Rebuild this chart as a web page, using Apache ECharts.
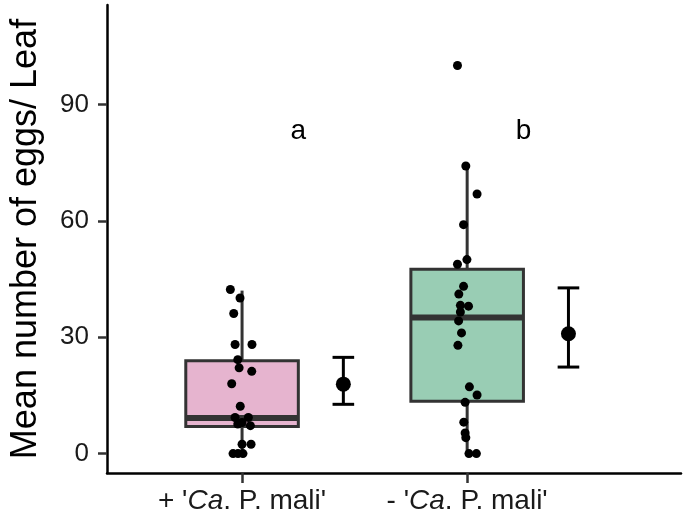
<!DOCTYPE html>
<html>
<head>
<meta charset="utf-8">
<script src="https://cdn.jsdelivr.net/npm/echarts@6/dist/echarts.min.js"></script>
<style>html,body{margin:0;padding:0;background:#fff}#c{width:685px;height:523px}</style>
</head>
<body>
<div id="c"></div>
<script>
// ---- data ----
const categories = ["+ 'Ca. P. mali'", "- 'Ca. P. mali'"];
const categoryPos = [1, 2];
const yTicks = [0, 30, 60, 90];
// box statistics
const whiskerLow = [0, 0];
const q1 = [7.0, 13.5];
const median = [9.2, 35.1];
const q3 = [23.9, 47.5];
const whiskerHigh = [42, 74];
const boxColors = ['#E6B4CF', '#99CDB4'];
// mean and error bars
const meanVals = [17.9, 30.9];
const errLow = [12.7, 22.3];
const errHigh = [24.8, 42.7];
// significance letters
const letters = ['a', 'b'];
const letterY = [83.0, 83.0];
// jittered raw points: values and horizontal jitter offsets
const group1Vals = [42.3, 40.1, 36.1, 28.1, 28.1, 24.2, 22.1, 21.2, 18.0, 12.2, 9.3, 9.3, 7.6, 7.2, 8.0, 2.4, 2.4, 0, 0, 0];
const group1Jit  = [-0.052, -0.009, -0.037, -0.031, 0.044, -0.019, -0.013, 0.043, -0.046, -0.008, -0.031, 0.028, -0.019, 0.037, 0.0, 0.0, 0.04, -0.04, -0.018, 0.004];
const group2Vals = [100, 74.1, 66.9, 59.0, 50.0, 48.8, 43.1, 41.1, 38.2, 38.0, 36.5, 34.2, 31.1, 27.9, 17.2, 15.1, 13.2, 8.1, 5.3, 4.1, 0, 0];
const group2Jit  = [-0.043, -0.006, 0.044, -0.016, -0.001, -0.043, -0.016, -0.037, -0.03, 0.006, -0.03, -0.038, -0.025, -0.041, 0.01, 0.044, -0.009, -0.015, -0.009, -0.006, 0.008, 0.041];

// ---- build ----
const BOX_W = 0.25;     // half width in x units
const ERR_OFF = 0.45;   // error bar nudge
const CAP = 0.048;
const FONT = "'Liberation Sans', Arial, sans-serif";

const boxData = categoryPos.map((x, i) => [x, whiskerLow[i], q1[i], median[i], q3[i], whiskerHigh[i], i]);
const errData = categoryPos.map((x, i) => [x + ERR_OFF, errLow[i], meanVals[i], errHigh[i]]);
const meanData = categoryPos.map((x, i) => [x + ERR_OFF, meanVals[i]]);
const pts = [];
group1Vals.forEach((v, i) => pts.push([categoryPos[0] + group1Jit[i], v]));
group2Vals.forEach((v, i) => pts.push([categoryPos[1] + group2Jit[i], v]));
const letterData = categoryPos.map((x, i) => [x + 0.25, letterY[i], letters[i]]);

const chart = echarts.init(document.getElementById('c'), null, {renderer: 'canvas'});
chart.setOption({
  animation: false,
  backgroundColor: '#fff',
  grid: {left: 105, right: 4, top: 5, bottom: 50, containLabel: false},
  xAxis: {
    type: 'value', min: 0.4, max: 2.95,
    splitLine: {show: false},
    axisLine: {show: true, onZero: false, lineStyle: {color: '#000', width: 2.5}},
    axisTick: {show: true, customValues: categoryPos, length: 10, lineStyle: {color: '#333', width: 2.5}},
    axisLabel: {
      show: true, customValues: categoryPos, margin: 14,
      fontFamily: FONT, fontSize: 28, color: '#1a1a1a',
      formatter: function (v) {
        const i = categoryPos.indexOf(Math.round(v));
        const s = categories[i] || '';
        return s.replace('Ca', '{i|Ca}');
      },
      rich: {i: {fontStyle: 'italic', fontFamily: FONT, fontSize: 28, color: '#1a1a1a'}}
    }
  },
  yAxis: {
    type: 'value', min: -5, max: 115.6,
    name: 'Mean number of eggs/ Leaf', nameLocation: 'middle', nameGap: 63,
    nameTextStyle: {fontFamily: FONT, fontSize: 36, color: '#000'},
    splitLine: {show: false},
    axisLine: {show: true, onZero: false, lineStyle: {color: '#000', width: 2.5}},
    axisTick: {show: true, customValues: yTicks, length: 9, lineStyle: {color: '#333', width: 2.5}},
    axisLabel: {show: true, customValues: yTicks, margin: 18, fontFamily: FONT, fontSize: 26, color: '#1a1a1a'}
  },
  series: [
    {
      type: 'custom', name: 'box', data: boxData, z: 2,
      renderItem: function (params, api) {
        const x = api.value(0);
        const lo = api.coord([x, api.value(1)]);
        const b1 = api.coord([x - BOX_W, api.value(2)]);
        const md = api.value(3);
        const b3 = api.coord([x + BOX_W, api.value(4)]);
        const hi = api.coord([x, api.value(5)]);
        const mL = api.coord([x - BOX_W, md]);
        const mR = api.coord([x + BOX_W, md]);
        const col = boxColors[api.value(6)];
        return {
          type: 'group', children: [
            {type: 'line', shape: {x1: hi[0], y1: hi[1], x2: hi[0], y2: b3[1]}, style: {stroke: '#333', lineWidth: 3}},
            {type: 'line', shape: {x1: lo[0], y1: lo[1], x2: lo[0], y2: b1[1]}, style: {stroke: '#333', lineWidth: 3}},
            {type: 'rect', shape: {x: b1[0], y: b3[1], width: b3[0] - b1[0], height: b1[1] - b3[1]}, style: {fill: col, stroke: '#333', lineWidth: 3}},
            {type: 'line', shape: {x1: mL[0], y1: mL[1], x2: mR[0], y2: mR[1]}, style: {stroke: '#333', lineWidth: 6}}
          ]
        };
      }
    },
    {
      type: 'scatter', name: 'points', data: pts, z: 3,
      symbol: 'circle', symbolSize: 9, itemStyle: {color: '#000', opacity: 1}
    },
    {
      type: 'custom', name: 'err', data: errData, z: 3,
      renderItem: function (params, api) {
        const x = api.value(0);
        const lo = api.coord([x, api.value(1)]);
        const hi = api.coord([x, api.value(3)]);
        const l1 = api.coord([x - CAP, api.value(1)]);
        const r1 = api.coord([x + CAP, api.value(1)]);
        const l2 = api.coord([x - CAP, api.value(3)]);
        const r2 = api.coord([x + CAP, api.value(3)]);
        return {
          type: 'group', children: [
            {type: 'line', shape: {x1: lo[0], y1: lo[1], x2: hi[0], y2: hi[1]}, style: {stroke: '#000', lineWidth: 3}},
            {type: 'line', shape: {x1: l1[0], y1: l1[1], x2: r1[0], y2: r1[1]}, style: {stroke: '#000', lineWidth: 3}},
            {type: 'line', shape: {x1: l2[0], y1: l2[1], x2: r2[0], y2: r2[1]}, style: {stroke: '#000', lineWidth: 3}}
          ]
        };
      }
    },
    {
      type: 'scatter', name: 'mean', data: meanData, z: 4,
      symbol: 'circle', symbolSize: 15, itemStyle: {color: '#000', opacity: 1}
    },
    {
      type: 'custom', name: 'letters', data: letterData, z: 4,
      renderItem: function (params, api) {
        const p = api.coord([api.value(0), api.value(1)]);
        return {type: 'text', x: p[0], y: p[1], style: {text: letters[params.dataIndex], fontFamily: FONT, fontSize: 28, fill: '#000', align: 'center', verticalAlign: 'middle'}};
      }
    }
  ]
});
</script>
</body>
</html>
